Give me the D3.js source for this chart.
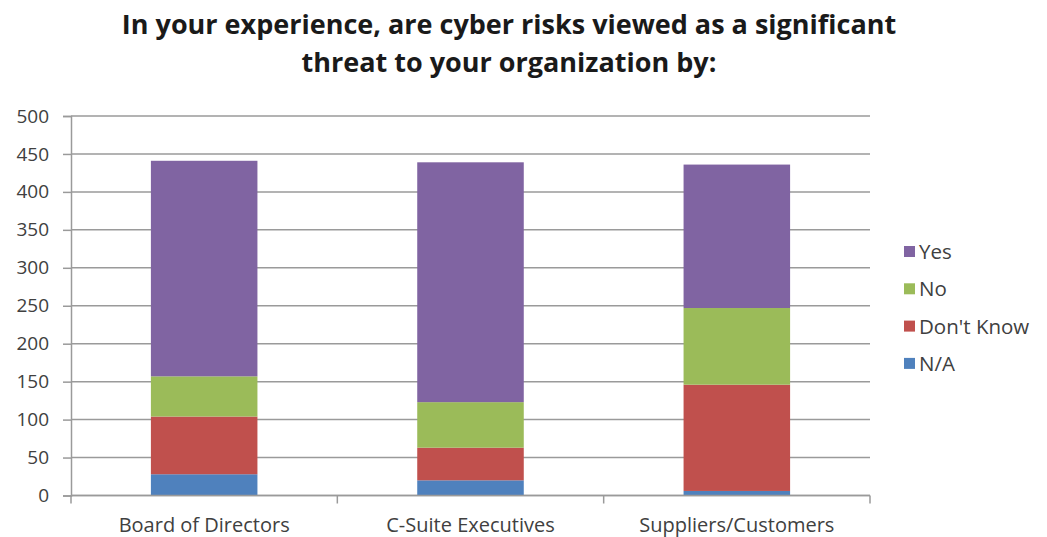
<!DOCTYPE html>
<html>
<head>
<meta charset="utf-8">
<script src="https://cdn.jsdelivr.net/npm/d3@7"></script>
<style>
  html, body { margin: 0; padding: 0; background: #fff; }
  svg { display: block; font-family: "Open Sans", sans-serif; }
</style>
</head>
<body>
<svg id="chart" width="1047" height="537"></svg>
<script>
// Survey responses per group (counts of respondents)
const categories = ["Board of Directors", "C-Suite Executives", "Suppliers/Customers"];
const seriesNames = ["N/A", "Don't Know", "No", "Yes"];
const naValues = [28, 20, 6];
const dontKnowValues = [76, 43, 140];
const noValues = [53, 60, 101];
const yesValues = [284, 316, 189];
const yTicks = [0, 50, 100, 150, 200, 250, 300, 350, 400, 450, 500];
const titleLines = [
  "In your experience, are cyber risks viewed as a significant",
  "threat to your organization by:"
];
const colors = ["#4F81BD", "#C0504D", "#9BBB59", "#8064A2"];

const rows = categories.map((c, i) => ({
  category: c,
  "N/A": naValues[i],
  "Don't Know": dontKnowValues[i],
  "No": noValues[i],
  "Yes": yesValues[i]
}));

const svg = d3.select("#chart");
const plot = { left: 71, right: 870, top: 116, bottom: 495.5 };

const x = d3.scaleBand().domain(categories).range([plot.left, plot.right]).paddingInner(0.6).paddingOuter(0.3);
const y = d3.scaleLinear().domain([0, 500]).range([plot.bottom, plot.top]);
const color = d3.scaleOrdinal().domain(seriesNames).range(colors);

// Title
svg.append("g").selectAll("text").data(titleLines).join("text")
  .attr("x", 509)
  .attr("y", (d, i) => 33.5 + i * 38.5)
  .attr("text-anchor", "middle")
  .attr("font-size", 27)
  .attr("font-weight", "bold")
  .attr("fill", "#1a1a1a")
  .text(d => d);

// Horizontal gridlines
svg.append("g").selectAll("line").data(yTicks).join("line")
  .attr("x1", plot.left).attr("x2", plot.right)
  .attr("y1", d => y(d)).attr("y2", d => y(d))
  .attr("stroke", "#9a9a9a").attr("stroke-width", 1.5);

// Stacked bars
const stack = d3.stack().keys(seriesNames)(rows);
svg.append("g").selectAll("g").data(stack).join("g")
  .attr("fill", d => color(d.key))
  .selectAll("rect").data(d => d).join("rect")
  .attr("x", d => x(d.data.category))
  .attr("width", x.bandwidth())
  .attr("y", d => y(d[1]))
  .attr("height", d => y(d[0]) - y(d[1]));

// Y axis
const yAxis = svg.append("g")
  .attr("transform", `translate(${plot.left},0)`)
  .call(d3.axisLeft(y).tickValues(yTicks).tickSize(8).tickPadding(14));
yAxis.select(".domain").attr("stroke", "#9a9a9a").attr("stroke-width", 1.5);
yAxis.selectAll(".tick line").attr("stroke", "#9a9a9a").attr("stroke-width", 1.5);
yAxis.selectAll("text").attr("font-size", 19).attr("fill", "#404040")
  .attr("font-family", "Open Sans, sans-serif");

// X axis with ticks on category boundaries
const boundaries = d3.range(categories.length + 1).map(i => plot.left + i * (plot.right - plot.left) / categories.length);
const xg = svg.append("g");
xg.append("line")
  .attr("x1", plot.left).attr("x2", plot.right)
  .attr("y1", plot.bottom).attr("y2", plot.bottom)
  .attr("stroke", "#9a9a9a").attr("stroke-width", 1.5);
xg.selectAll("line.tick").data(boundaries).join("line")
  .attr("class", "tick")
  .attr("x1", d => d).attr("x2", d => d)
  .attr("y1", plot.bottom).attr("y2", plot.bottom + 8)
  .attr("stroke", "#9a9a9a").attr("stroke-width", 1.5);
xg.selectAll("text").data(categories).join("text")
  .attr("x", d => x(d) + x.bandwidth() / 2)
  .attr("y", 532)
  .attr("text-anchor", "middle")
  .attr("font-size", 20)
  .attr("fill", "#404040")
  .text(d => d);

// Legend (top to bottom: Yes, No, Don't Know, N/A)
const legendItems = seriesNames.slice().reverse();
const legend = svg.append("g").selectAll("g").data(legendItems).join("g")
  .attr("transform", (d, i) => `translate(904, ${252 + i * 37.3})`);
legend.append("rect")
  .attr("x", 0).attr("y", -6).attr("width", 11).attr("height", 11)
  .attr("fill", d => color(d));
legend.append("text")
  .attr("x", 15).attr("y", 0).attr("dy", "0.35em")
  .attr("font-size", 20.5).attr("fill", "#404040")
  .text(d => d);
</script>
</body>
</html>
